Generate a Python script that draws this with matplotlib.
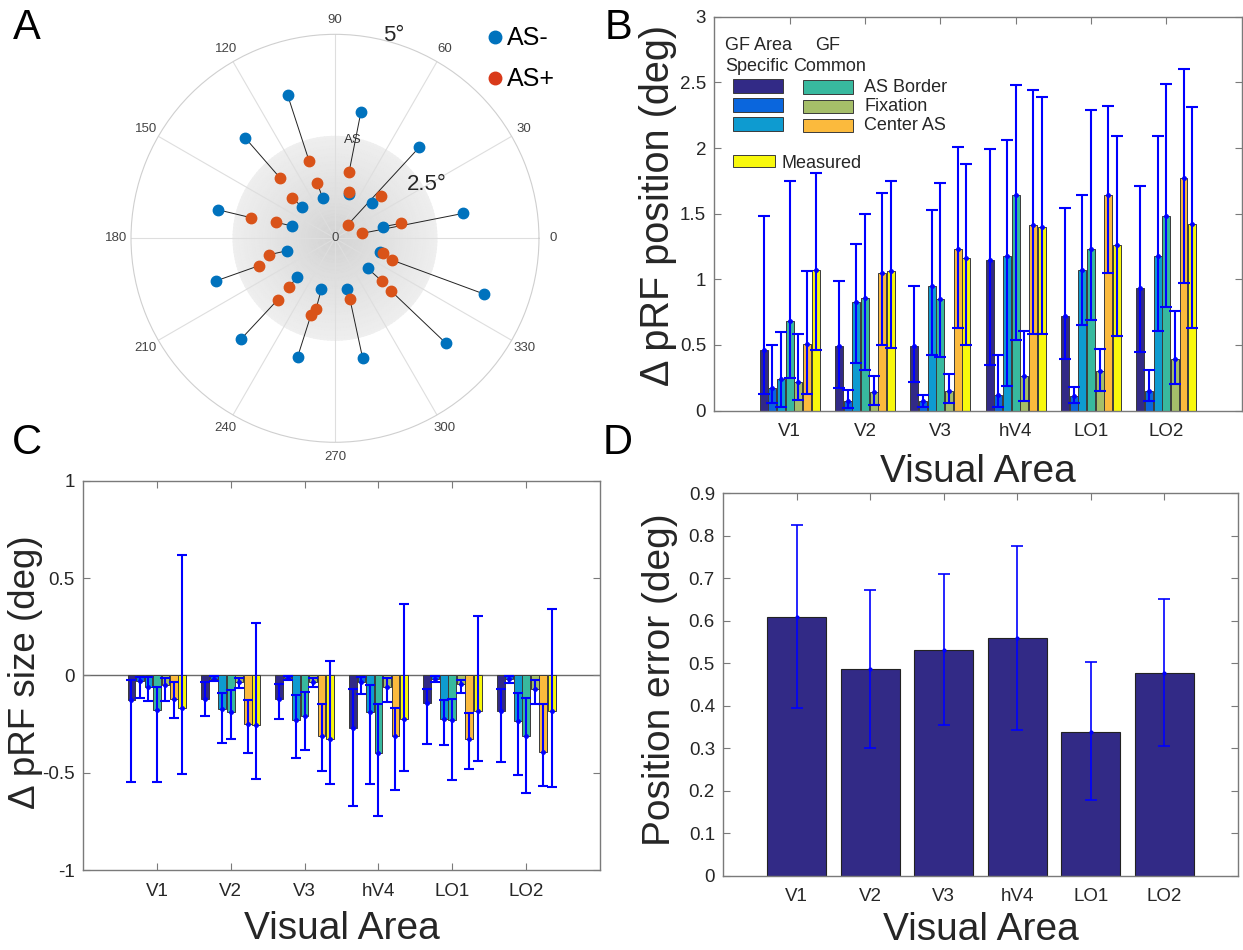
import numpy as np
import matplotlib
matplotlib.use("Agg")
import matplotlib.pyplot as plt
from matplotlib.patches import Rectangle
from matplotlib.lines import Line2D

plt.rcParams["font.family"] = ["Liberation Sans", "DejaVu Sans"]

areas = ["V1", "V2", "V3", "hV4", "LO1", "LO2"]
bar_colors = ["#322A86", "#0A66DD", "#0E9BD0", "#38B99E", "#A5BE69", "#FBBA3D", "#F8F80C"]

# panel A: pRF centres (polar angle in deg, eccentricity in deg), AS- and AS+ pairs
as_minus_theta = [108.3, 78.4, 131.8, 47.2, 107.0, 136.5, 72.7, 43.4, 166.3, 164.0, 11.0, 13.6,
                  194.5, 199.7, -16.5, -20.5, -42.6, -43.4, 226.0, 227.0, 255.0, 252.5, 283.0, 283.0]
as_minus_ecc = [3.70, 3.17, 3.31, 3.04, 1.03, 1.10, 1.15, 1.25, 2.94, 1.10, 3.20, 1.22,
                1.21, 3.10, 1.15, 3.90, 1.09, 3.74, 1.33, 3.39, 1.29, 3.04, 1.27, 3.02]
as_plus_theta = [108.5, 78.0, 132.3, 46.5, 107.8, 136.6, 73.3, 43.0, 166.2, 164.8, 10.4, 12.7,
                 194.0, 199.8, -16.7, -20.9, -42.4, -43.2, 226.4, 227.0, 255.0, 252.6, np.nan, 283.8]
as_plus_ecc = [2.01, 1.65, 1.99, 0.45, 1.42, 1.45, 1.19, 1.53, 2.13, 1.50, 0.68, 1.67,
               1.67, 1.98, 1.22, 1.49, 1.55, 1.87, 1.64, 2.06, 1.79, 1.97, np.nan, 1.54]

# panel B: delta pRF position, rows = GF spec x3, AS border, fixation, center AS, measured
pos_mean = [[0.46, 0.49, 0.49, 1.15, 0.72, 0.93],
            [0.17, 0.07, 0.07, 0.12, 0.11, 0.15],
            [0.24, 0.83, 0.95, 1.18, 1.07, 1.18],
            [0.68, 0.86, 0.85, 1.64, 1.23, 1.48],
            [0.22, 0.14, 0.15, 0.26, 0.30, 0.39],
            [0.51, 1.05, 1.23, 1.41, 1.64, 1.77],
            [1.07, 1.06, 1.16, 1.40, 1.26, 1.42]]
pos_lo = [[0.13, 0.17, 0.22, 0.35, 0.39, 0.45],
          [0.06, 0.02, 0.03, 0.03, 0.06, 0.07],
          [0.03, 0.36, 0.42, 0.19, 0.65, 0.61],
          [0.25, 0.31, 0.41, 0.54, 0.69, 0.79],
          [0.08, 0.04, 0.06, 0.07, 0.15, 0.20],
          [0.13, 0.50, 0.63, 0.58, 1.05, 0.97],
          [0.46, 0.48, 0.50, 0.58, 0.57, 0.63]]
pos_hi = [[1.48, 0.99, 0.95, 1.99, 1.54, 1.71],
          [0.50, 0.16, 0.12, 0.42, 0.18, 0.31],
          [0.60, 1.27, 1.53, 2.06, 1.64, 2.09],
          [1.75, 1.50, 1.73, 2.48, 2.29, 2.49],
          [0.58, 0.26, 0.28, 0.61, 0.47, 0.76],
          [1.06, 1.66, 2.01, 2.44, 2.32, 2.60],
          [1.81, 1.75, 1.88, 2.39, 2.09, 2.31]]

# panel C: delta pRF size
size_mean = [[-0.128, -0.120, -0.120, -0.269, -0.142, -0.185],
             [-0.030, -0.017, -0.012, -0.034, -0.017, -0.021],
             [-0.058, -0.175, -0.228, -0.190, -0.226, -0.236],
             [-0.176, -0.188, -0.209, -0.400, -0.231, -0.312],
             [-0.050, -0.034, -0.034, -0.060, -0.043, -0.068],
             [-0.120, -0.252, -0.312, -0.313, -0.325, -0.394],
             [-0.168, -0.257, -0.329, -0.223, -0.183, -0.185]]
size_lo = [[-0.550, -0.209, -0.224, -0.670, -0.353, -0.445],
           [-0.115, -0.030, -0.022, -0.094, -0.034, -0.037],
           [-0.130, -0.348, -0.425, -0.556, -0.356, -0.514],
           [-0.550, -0.327, -0.384, -0.720, -0.540, -0.603],
           [-0.130, -0.063, -0.060, -0.137, -0.089, -0.146],
           [-0.217, -0.397, -0.490, -0.589, -0.483, -0.568],
           [-0.507, -0.530, -0.560, -0.490, -0.440, -0.572]]
size_hi = [[-0.026, -0.035, -0.045, -0.072, -0.068, -0.068],
           [-0.010, -0.005, -0.004, -0.009, -0.005, -0.005],
           [-0.010, -0.089, -0.099, -0.050, -0.128, -0.089],
           [-0.060, -0.077, -0.086, -0.146, -0.123, -0.116],
           [-0.014, -0.012, -0.012, -0.014, -0.026, -0.026],
           [-0.034, -0.128, -0.149, -0.168, -0.192, -0.146],
           [0.618, 0.270, 0.075, 0.365, 0.306, 0.339]]

# panel D: position error
err_mean = [0.610, 0.487, 0.532, 0.559, 0.339, 0.478]
err_lo = [0.394, 0.301, 0.354, 0.343, 0.178, 0.306]
err_hi = [0.826, 0.672, 0.711, 0.775, 0.503, 0.651]

TXT = "#262626"
SPINE = "#7a7a7a"


def style_box(ax):
    for s in ax.spines.values():
        s.set_color(SPINE)
        s.set_linewidth(1.0)
    ax.tick_params(direction="in", top=True, right=True, length=5, width=0.8,
                   color=SPINE, labelcolor=TXT, labelsize=13.5)
    ax.tick_params(axis="x", pad=9)
    ax.tick_params(axis="y", pad=6)
    ax.set_xlim(0, 7)
    ax.set_xticks(np.arange(1, 7))
    ax.set_xticklabels(areas)


def axis_labels(ax, xlab, ylab, ysize, ycoords, xy=-0.183):
    ax.set_xlabel(xlab, fontsize=28, color=TXT, va="baseline")
    ax.xaxis.set_label_coords(0.5, xy)
    ax.set_ylabel(ylab, fontsize=ysize, color=TXT, va="center")
    ax.yaxis.set_label_coords(*ycoords)


def grouped_bars(ax, mean, lo, hi, capsize):
    x = np.arange(1, 7)
    step = 0.115
    for i in range(7):
        xi = x + (i - 3) * step
        m = np.array(mean[i])
        ax.bar(xi, m, width=0.105, color=bar_colors[i], edgecolor="#3a3a3a",
               linewidth=0.7, zorder=2)
        yerr = [m - np.array(lo[i]), np.array(hi[i]) - m]
        ax.errorbar(xi, m, yerr=np.abs(yerr), fmt=".", color="#0000FF", ms=5,
                    elinewidth=1.5, capsize=capsize, capthick=1.5, zorder=3)


fig = plt.figure(figsize=(12.43, 9.5), dpi=100)

# ---- A: polar plot
axA = fig.add_axes([0.1054, 0.5344, 0.3282, 0.4295], projection="polar")
tt, rr = np.meshgrid(np.linspace(0, 2 * np.pi, 181), np.linspace(0, 2.5, 40))
axA.pcolormesh(tt, rr, 0.83 + 0.105 * rr / 2.5, cmap="gray", vmin=0, vmax=1,
               shading="gouraud", zorder=0)
axA.set_rlim(0, 5)
axA.set_yticks([])
axA.set_thetagrids(np.arange(0, 360, 30), [str(a) for a in range(0, 360, 30)],
                   fontsize=9.5, color="#444444")
axA.tick_params(axis="x", pad=0)
axA.grid(True, color="#dedede", lw=0.8)
axA.spines["polar"].set_color("#cfcfcf")
axA.set_facecolor("white")

tm, tp = np.deg2rad(as_minus_theta), np.deg2rad(as_plus_theta)
for k in range(len(tm)):
    axA.plot([tm[k], tp[k]], [as_minus_ecc[k], as_plus_ecc[k]], color="#222222",
             lw=0.7, zorder=3)
axA.plot(tm, as_minus_ecc, "o", color="#0072BD", ms=7.5, zorder=4)
axA.plot(tp, as_plus_ecc, "o", color="#D95319", ms=7.5, zorder=5)
axA.text(0, 0, "0", ha="center", va="center", fontsize=9.5, color="#444444", zorder=6)
axA.text(np.deg2rad(80), 2.45, "AS", ha="center", va="center", fontsize=9.5, color="#333333")
axA.text(np.deg2rad(30.2), 2.6, "2.5°", ha="center", va="center", fontsize=16, color=TXT)
axA.text(np.deg2rad(73.8), 5.18, "5°", ha="center", va="center", fontsize=16, color=TXT)

# AS-/AS+ key
for yy, col, lab in [(37, "#0072BD", "AS-"), (78, "#D93A1A", "AS+")]:
    fig.add_artist(Line2D([495 / 1243], [1 - yy / 950], marker="o", ls="", color=col,
                          ms=9, transform=fig.transFigure))
    fig.text(507 / 1243, 1 - (yy + 1) / 950, lab, fontsize=18, color="black",
             ha="left", va="center")

# ---- B: pRF position
axB = fig.add_axes([0.5748, 0.5678, 0.4240, 0.4146])
grouped_bars(axB, pos_mean, pos_lo, pos_hi, capsize=4.5)
style_box(axB)
axB.set_ylim(0, 3)
axB.set_yticks([0, 0.5, 1, 1.5, 2, 2.5, 3])
axB.set_yticklabels(["0", "0.5", "1", "1.5", "2", "2.5", "3"])
axis_labels(axB, "Visual Area", "Δ pRF position (deg)", 28.5, (-0.107, 0.522), xy=-0.181)

lg = dict(transform=axB.transAxes, fontsize=13, color=TXT, va="center")
axB.text(0.0197, 0.9265, "GF Area", ha="left", **lg)
axB.text(0.0197, 0.8748, "Specific", ha="left", **lg)
axB.text(0.2154, 0.9265, "GF", ha="center", **lg)
axB.text(0.1486, 0.8748, "Common", ha="left", **lg)
for j, y0 in enumerate([0.8071, 0.7588, 0.7106]):
    axB.add_patch(Rectangle((0.0349, y0), 0.0953, 0.0348, transform=axB.transAxes,
                            facecolor=bar_colors[j], edgecolor="#3a3a3a", lw=0.7))
for j, (y0, lab) in enumerate(zip([0.8038, 0.7548, 0.7065],
                                  ["AS Border", "Fixation", "Center AS"])):
    axB.add_patch(Rectangle((0.1683, y0), 0.0945, 0.0348, transform=axB.transAxes,
                            facecolor=bar_colors[3 + j], edgecolor="#3a3a3a", lw=0.7))
    axB.text(0.2846, y0 + 0.0174, lab, ha="left", **lg)
axB.add_patch(Rectangle((0.0349, 0.6192), 0.0800, 0.0297, transform=axB.transAxes,
                        facecolor=bar_colors[6], edgecolor="#3a3a3a", lw=0.7))
axB.text(0.128, 0.6278, "Measured", ha="left", **lg)

# ---- C: pRF size
axC = fig.add_axes([0.0668, 0.0842, 0.4159, 0.4098])
axC.axhline(0, color="#6a6a6a", lw=1.0, zorder=1)
grouped_bars(axC, size_mean, size_lo, size_hi, capsize=3.8)
style_box(axC)
axC.set_ylim(-1, 1)
axC.set_yticks([-1, -0.5, 0, 0.5, 1])
axC.set_yticklabels(["-1", "-0.5", "0", "0.5", "1"])
axis_labels(axC, "Visual Area", "Δ pRF size (deg)", 26.5, (-0.111, 0.507), xy=-0.178)

# ---- D: position error
axD = fig.add_axes([0.5819, 0.0782, 0.4139, 0.4025])
xD = np.arange(1, 7)
m = np.array(err_mean)
axD.bar(xD, m, width=0.8, color=bar_colors[0], edgecolor="#222222", linewidth=0.8, zorder=2)
axD.errorbar(xD, m, yerr=[m - np.array(err_lo), np.array(err_hi) - m], fmt=".",
             color="#0000FF", ms=4, elinewidth=1.2, capsize=4, capthick=1.2, zorder=3)
style_box(axD)
axD.set_ylim(0, 0.9)
axD.set_yticks(np.arange(0, 0.91, 0.1))
axD.set_yticklabels(["0", "0.1", "0.2", "0.3", "0.4", "0.5", "0.6", "0.7", "0.8", "0.9"])
axis_labels(axD, "Visual Area", "Position error (deg)", 28, (-0.123, 0.512), xy=-0.168)

# panel letters
for lab, (px, py) in zip("ABCD", [(27, 28), (618, 28), (27, 443), (618, 443)]):
    fig.text(px / 1243, 1 - py / 950, lab, fontsize=30, color="black",
             ha="center", va="center")

fig.savefig("out.png", dpi=100, facecolor="white")
